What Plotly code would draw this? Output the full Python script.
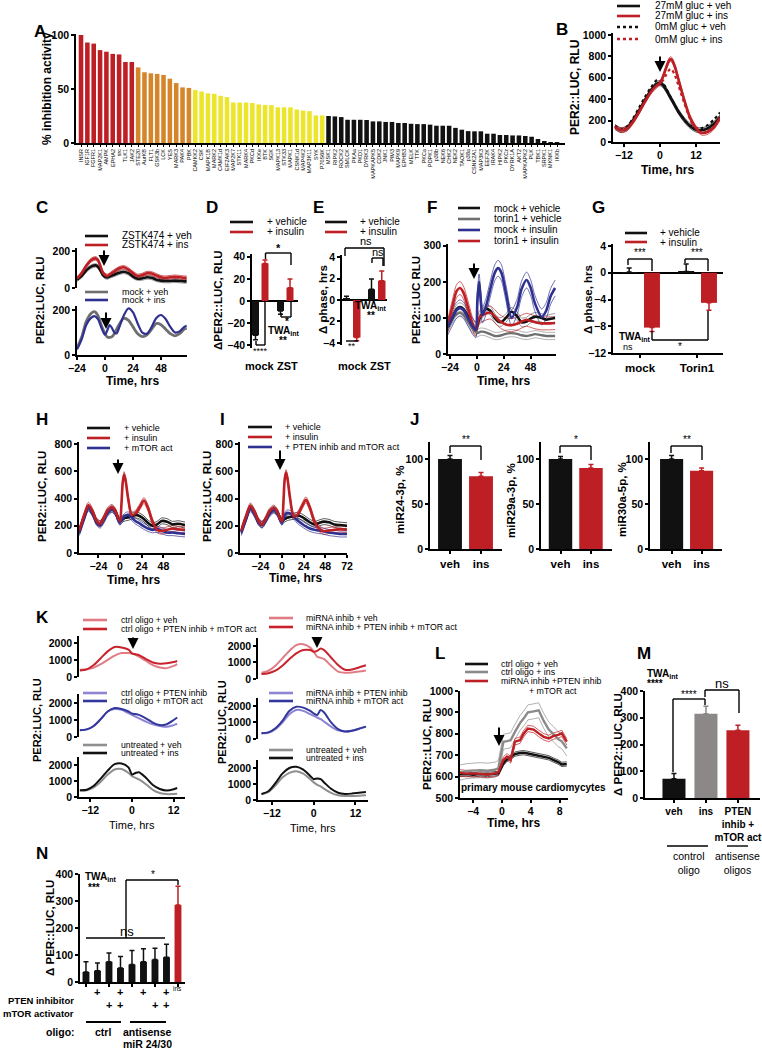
import numpy as np
import plotly.graph_objects as go

W, H = 762, 1051
FONT = "Liberation Sans, Arial, Helvetica, sans-serif"
RED = '#bd1f24'
BLACK = '#111111'
BLUE = '#2f3191'
GREY = '#6f6f6f'
LGREY = '#8f8f8f'
PINK = '#e07c86'
KRED = '#c8232c'
LPURP = '#8d84d2'
DBLUE = '#33389c'
ORANGE = '#d6862a'
YELLOW = '#ede52a'

# ---------------- DATA ----------------
# Panel A
A_red_kinases = ["INSR", "IGF1R", "FGFR1", "MAP2K1", "AMPK", "EPHA2", "src", "TLK1", "JAK2"]
A_red_values = [100, 93, 92, 86, 84.5, 82.5, 82, 75, 75]
A_orange_kinases = ["STE20", "AurKB", "FLT1", "GSK3b", "LCK", "YES", "MARK3", "PAK4", "PBK"]
A_orange_values = [70, 65.5, 64.5, 64, 63, 59.5, 55.5, 51.5, 51]
A_yellow_kinases = ["CAMKK2", "CSK", "MAPK1B", "MARK2", "CAMK1d", "EIF2AK3", "MAP2K7", "STK11", "MARK4",
                    "PKCd", "IKKe", "BTK", "SGK", "MAPK13", "STK33", "MAPK1", "CSNK1d", "MAP4K2", "MAP3K11",
                    "SYK", "P70S6K"]
A_yellow_values = [49, 47.7, 46, 45.5, 43.7, 42.5, 37.5, 37.5, 37.5, 37, 35.7, 35.2, 35, 33, 33, 33, 31, 30,
                   29.5, 25.5, 25.5]
A_black_kinases = ["MSK1", "RIPK2", "ROCK2", "SMLCK", "PKAa", "PKD1", "DYRK3", "MAPKAPK5", "CDK2", "JNK1",
                   "PIM3", "MAPK9", "EPHB3", "MELK", "TTK", "PKCa", "PDPK1", "p38b", "NEK6", "CHK2", "NEK2",
                   "TAOK1", "p38a", "CSNK2A1", "MAP3K3", "EEF2K", "IRAK4", "HIPK2", "PKCz", "DYRK1A", "AKT2",
                   "MAPKAPK2", "PLK", "TBK1", "SRPK1", "MKNK1", "IKKb"]
A_black_values = [25, 24.6, 24, 21.5, 21.5, 21.5, 21.3, 20, 20, 19.5, 19.5, 18.5, 18.5, 17.8, 17.5, 17.5, 17,
                  16, 16, 16, 14, 12.3, 11, 10.8, 10.8, 8.6, 8.6, 7.4, 7.4, 7, 7, 6.5, 5.8, 3.7, 1.5, 0.5, 0.3]

# Panel B
B_time = [-15, -13, -11, -9, -7, -5, -3, -1, 0, 1, 2, 3, 3.5, 4, 5, 6, 8, 10, 12, 14, 16, 18, 20]
B_27_veh = [140, 110, 130, 200, 290, 390, 480, 545, 550, 530, 490, 440, 415, 390, 340, 290, 210, 150, 115, 110, 130, 170, 230]
B_27_ins = [140, 110, 125, 190, 280, 380, 470, 530, 550, 610, 690, 760, 775, 765, 700, 600, 400, 230, 130, 85, 95, 140, 225]
B_0_veh = [150, 120, 145, 220, 320, 420, 510, 580, 575, 550, 505, 450, 420, 395, 340, 290, 210, 155, 125, 130, 160, 210, 275]
B_0_ins = [145, 115, 130, 200, 290, 390, 480, 530, 540, 575, 625, 670, 680, 675, 620, 540, 370, 215, 115, 85, 100, 160, 240]
B_sem = 22

# Panel C
C_time = [-24, -20, -16, -12, -8, -6, -4, -2, 0, 2, 4, 8, 12, 16, 20, 24, 28, 32, 36, 40, 44, 48, 52, 56, 60, 64, 68, 70]
C_zstk_veh = [45, 65, 95, 115, 122, 115, 95, 72, 60, 57, 62, 72, 82, 88, 80, 62, 50, 52, 58, 55, 45, 40, 38, 38, 40, 38, 36, 36]
C_zstk_ins = [50, 80, 120, 150, 160, 150, 120, 85, 70, 65, 72, 90, 105, 112, 100, 80, 65, 70, 80, 78, 68, 58, 55, 58, 60, 58, 55, 55]
C_mock_time = [-24, -20, -16, -12, -9, -6, -3, 0, 2, 4, 6, 8, 10, 12, 16, 20, 24, 28, 32, 36, 40, 44, 48, 52, 56, 60, 64, 68, 70]
C_mock_veh = [30, 80, 150, 185, 193, 175, 130, 95, 80, 78, 82, 95, 115, 135, 163, 155, 125, 95, 82, 90, 115, 140, 135, 115, 95, 85, 95, 115, 120]
C_mock_ins = [25, 70, 135, 165, 173, 160, 120, 90, 110, 133, 120, 100, 96, 120, 175, 207, 190, 140, 100, 95, 125, 165, 178, 160, 125, 100, 105, 125, 130]
C_sem = 10

# Panel D
D_groups = ["mock", "ZST"]
D_vehicle = [-31, -9]
D_vehicle_err = [4, 3]
D_insulin = [34, 12]
D_insulin_err = [3, 8]

# Panel E
E_groups = ["mock", "ZST"]
E_vehicle = [0.1, 1.0]
E_vehicle_err = [0.25, 0.95]
E_insulin = [-3.5, 1.8]
E_insulin_err = [0.3, 0.9]

# Panel F
F_time = [-26, -22, -18, -15, -12, -8, -4, -1, 0.5, 2, 3.5, 5, 8, 12, 16, 19, 22, 26, 31, 36, 40, 44.5, 48, 52, 58, 62, 66, 70]
F_mock_veh = [75, 100, 125, 130, 125, 105, 80, 67, 80, 95, 105, 112, 125, 120, 100, 90, 89, 100, 117, 105, 88, 90, 98, 103, 100, 95, 98, 100]
F_torin_veh = [72, 95, 110, 114, 108, 90, 70, 62, 58, 60, 62, 62, 60, 55, 50, 50, 52, 56, 58, 56, 52, 50, 52, 55, 52, 50, 50, 50]
F_mock_ins = [75, 100, 122, 128, 122, 100, 78, 67, 150, 200, 150, 108, 130, 180, 225, 238, 225, 170, 100, 130, 180, 205, 185, 140, 103, 120, 160, 183]
F_torin_ins = [78, 130, 175, 183, 170, 130, 85, 67, 85, 100, 105, 108, 112, 115, 105, 95, 88, 82, 80, 84, 90, 95, 92, 88, 85, 85, 85, 86]
F_sem = [12, 10, 22, 18]

# Panel G
G_groups = ["mock", "Torin1"]
G_vehicle = [0.1, 0.2]
G_vehicle_err = [0.6, 1.1]
G_insulin = [-8.2, -4.5]
G_insulin_err = [0.6, 1.1]

# Panel H
H_time = [-45, -40, -35, -30, -26, -22, -18, -14, -9, -5, -2, 0, 1.5, 3, 4.5, 6, 9, 13, 17, 22, 26.5, 31, 36, 41, 46, 52, 58, 64, 72]
H_vehicle = [160, 260, 335, 290, 230, 215, 250, 300, 325, 300, 250, 230, 240, 250, 255, 258, 262, 270, 280, 270, 250, 220, 200, 210, 235, 230, 210, 215, 205]
H_insulin = [165, 270, 350, 300, 235, 215, 255, 310, 335, 305, 255, 235, 350, 520, 575, 540, 400, 280, 290, 340, 385, 330, 230, 170, 160, 170, 180, 175, 170]
H_mtor = [150, 250, 330, 285, 225, 205, 240, 290, 320, 295, 245, 225, 240, 255, 265, 275, 280, 260, 235, 215, 195, 180, 170, 175, 165, 150, 150, 145, 140]

# Panel I
I_time = H_time
I_vehicle = [160, 255, 335, 290, 230, 210, 245, 295, 320, 295, 250, 230, 240, 250, 255, 260, 265, 270, 275, 265, 245, 225, 210, 220, 230, 225, 210, 205, 200]
I_insulin = [165, 265, 345, 295, 235, 210, 250, 305, 330, 300, 250, 235, 360, 540, 590, 550, 400, 270, 280, 340, 390, 330, 230, 180, 160, 165, 170, 175, 170]
I_pten_mtor = [150, 245, 325, 280, 225, 205, 240, 285, 315, 290, 245, 225, 250, 275, 290, 295, 290, 270, 240, 215, 195, 180, 170, 165, 160, 150, 145, 140, 140]
HI_sem = 22

# Panel J
J_groups = ["veh", "ins"]
J_mir24 = [100, 81]
J_mir24_err = [4, 4]
J_mir29a = [100, 90]
J_mir29a_err = [3, 4]
J_mir30a = [100, 87]
J_mir30a_err = [4, 3]

# Panel K
K_time_left = [-15, -13, -11, -9, -7, -5, -3, -1, 0, 1, 2, 4, 6, 8, 10, 12, 13]
K_ctrl_veh = [420, 450, 550, 750, 1000, 1250, 1400, 1400, 1370, 1300, 1200, 950, 700, 560, 520, 650, 760]
K_ctrl_pten_mtor = [380, 450, 700, 1100, 1500, 1760, 1730, 1600, 1380, 1330, 1280, 1050, 850, 780, 800, 880, 940]
K_ctrl_pten = [400, 450, 650, 1050, 1500, 1650, 1600, 1400, 1300, 1200, 1100, 900, 750, 650, 600, 700, 760]
K_ctrl_mtor = [400, 450, 650, 1050, 1500, 1700, 1650, 1500, 1380, 1350, 1300, 1100, 850, 700, 750, 1000, 1150]
K_untr_veh_l = [400, 420, 600, 950, 1400, 1720, 1750, 1500, 1300, 1200, 1100, 800, 450, 250, 180, 190, 200]
K_untr_ins_l = [420, 450, 700, 1150, 1650, 2050, 2100, 1850, 1400, 1500, 1550, 1200, 750, 500, 400, 480, 560]
K_time_right = [-15, -13, -11, -9, -7, -5, -3, -1, 0, 1, 2, 3, 5, 7, 9, 11, 13, 15]
K_mir_veh = [380, 500, 800, 1250, 1700, 2050, 2100, 1900, 1650, 1350, 1280, 1200, 800, 450, 380, 400, 450, 520]
K_mir_pten_mtor = [300, 350, 500, 800, 1200, 1550, 1750, 1750, 1650, 1700, 1850, 1750, 1300, 850, 560, 580, 700, 830]
K_mir_pten = [350, 380, 600, 1000, 1500, 1760, 1700, 1500, 1400, 1300, 1200, 1050, 750, 520, 450, 500, 620, 750]
K_mir_mtor = [350, 400, 650, 1100, 1700, 1950, 1900, 1700, 1550, 1450, 1750, 1600, 1000, 600, 450, 500, 620, 750]
K_untr_veh_r = [350, 500, 900, 1400, 1700, 1800, 1650, 1300, 1100, 950, 850, 700, 450, 300, 250, 250, 270, 300]
K_untr_ins_r = [380, 550, 1050, 1650, 2000, 2080, 1900, 1500, 1300, 1350, 1300, 1100, 700, 450, 380, 400, 450, 500]

# Panel L
L_time = [-6, -5, -4, -3, -2, -1, -0.5, 0.2, 0.7, 1.2, 1.8, 2.5, 3.0, 3.6, 4.4, 5.1, 5.8, 6.5, 7.1, 7.8, 8.3, 9.0]
L_ctrl_veh = [610, 612, 608, 612, 610, 612, 615, 662, 681, 690, 705, 710, 712, 708, 702, 698, 694, 688, 678, 668, 657, 659]
L_ctrl_ins = [618, 625, 628, 630, 628, 632, 640, 763, 766, 770, 809, 850, 871, 900, 905, 910, 860, 820, 800, 775, 765, 732]
L_mir_pten_mtor = [618, 614, 615, 612, 610, 615, 620, 678, 693, 678, 763, 770, 800, 825, 820, 802, 786, 778, 789, 795, 802, 763]
L_sem = [10, 35, 15]

# Panel M
M_groups = ["veh", "ins", "PTEN<br>inhib +<br>mTOR act"]
M_values = [72, 315, 253]
M_err = [20, 28, 19]

# Panel N
N_groups = ["ctrl", "ctrl PTEN", "ctrl mTOR", "ctrl PTEN+mTOR", "as", "as PTEN", "as mTOR", "as PTEN+mTOR", "ins"]
N_values = [37, 42, 75, 52, 65, 75, 83, 92, 285]
N_err = [38, 28, 32, 42, 52, 48, 42, 48, 70]
N_pten = [0, 1, 0, 1, 0, 1, 0, 1, 0]
N_mtor = [0, 0, 1, 1, 0, 0, 1, 1, 0]

# ---------------- HELPERS ----------------
fig = go.Figure()
layout = {}
shapes = []
annotations = []
count = [0]
TICK = 10.5


def fx(px):
    return px / W


def fy(py):
    return 1 - py / H


def tfont(size=TICK, bold=True, color='black'):
    return dict(family=FONT, size=size, color=color, weight='bold' if bold else 'normal')


def axes(x0, x1, ytop, ybot, xr, yr, xkw=None, ykw=None):
    count[0] += 1
    i = count[0]
    s = '' if i == 1 else str(i)
    base = dict(showline=True, linecolor='black', linewidth=1.6, ticks='outside', tickwidth=1.6,
                ticklen=3, tickcolor='black', showgrid=False, zeroline=False, tickfont=tfont(),
                fixedrange=True, automargin=False, tickangle=0)
    xa = dict(base)
    xa.update(domain=[fx(x0), fx(x1)], range=xr, anchor='y' + s)
    ya = dict(base)
    ya.update(domain=[fy(ybot), fy(ytop)], range=yr, anchor='x' + s)
    if xkw:
        xa.update(xkw)
    if ykw:
        ya.update(ykw)
    layout['xaxis' + s] = xa
    layout['yaxis' + s] = ya
    return 'x' + s, 'y' + s


def txt(px, py, s, size=10, bold=False, xa='center', ya='middle', angle=0, color='black'):
    annotations.append(dict(x=fx(px), y=fy(py), xref='paper', yref='paper', text=s, showarrow=False,
                            xanchor=xa, yanchor=ya, textangle=angle, font=tfont(size, bold, color)))


def seg(x0, y0, x1, y1, color='black', width=1.4, dash=None):
    shapes.append(dict(type='line', xref='paper', yref='paper', x0=fx(x0), y0=fy(y0), x1=fx(x1), y1=fy(y1),
                       line=dict(color=color, width=width, dash=dash)))


def bracket(xl, xr, ytop, yl, yr, width=1.4):
    seg(xl, ytop, xr, ytop, width=width)
    seg(xl, ytop, xl, yl, width=width)
    seg(xr, ytop, xr, yr, width=width)


def legend(x0, x1, xt, entries, size=10):
    for (y, label, color, dash) in entries:
        seg(x0, y, x1, y, color, 2.6, dash)
        txt(xt, y, label, size, xa='left')


def arrow(px, ytail, yhead):
    annotations.append(dict(x=fx(px), y=fy(yhead), xref='paper', yref='paper', text='', showarrow=True,
                            ax=0, ay=ytail - yhead, axref='pixel', ayref='pixel', arrowhead=2,
                            arrowsize=1.1, arrowwidth=2, arrowcolor='black'))


def letter(px, py, s):
    txt(px, py, s, 17, True)


def line(xa, ya, t, y, color, width=2.4, dash=None, shape='spline'):
    fig.add_trace(go.Scatter(x=t, y=y, mode='lines', xaxis=xa, yaxis=ya, showlegend=False, hoverinfo='skip',
                             line=dict(color=color, width=width, dash=dash, shape=shape, smoothing=0.8)))


def sem_lines(xa, ya, t, y, sem, color, shape='spline'):
    arr = np.array(y, dtype=float)
    line(xa, ya, t, arr + sem, color, 0.7, None, shape)
    line(xa, ya, t, arr - sem, color, 0.7, None, shape)


def bars(xa, ya, cats, vals, errs, color, offset, width):
    up = [e if v >= 0 else 0 for v, e in zip(vals, errs)]
    dn = [e if v < 0 else 0 for v, e in zip(vals, errs)]
    fig.add_trace(go.Bar(x=cats, y=vals, offset=offset, width=width, xaxis=xa, yaxis=ya, showlegend=False,
                         hoverinfo='skip', marker=dict(color=color, line=dict(width=0)),
                         error_y=dict(type='data', symmetric=False, array=up, arrayminus=dn, color=color,
                                      thickness=1.5, width=2.5)))


def ytitle(px, py, s, size=11.5):
    txt(px, py, s, size, True, angle=-90)


# ---------------- PANEL A ----------------
A_kin = A_red_kinases + A_orange_kinases + A_yellow_kinases + A_black_kinases
xa, ya = axes(76, 565, 34, 143, [-0.79, 76.26], [0, 100.9],
              xkw=dict(type='category', tickmode='array', tickvals=A_kin, ticktext=A_kin, tickangle=-90,
                       tickfont=tfont(5.5, False), ticklen=2, tickwidth=0.8),
              ykw=dict(tickvals=[0, 50, 100]))
for kin, vals, col in [(A_red_kinases, A_red_values, RED), (A_orange_kinases, A_orange_values, ORANGE),
                       (A_yellow_kinases, A_yellow_values, YELLOW), (A_black_kinases, A_black_values, BLACK)]:
    fig.add_trace(go.Bar(x=kin, y=vals, width=0.72, marker=dict(color=col, line=dict(width=0)), xaxis=xa,
                         yaxis=ya, showlegend=False, hoverinfo='skip'))
ytitle(47, 89, "% inhibition activity", 12)
letter(40, 32, "A")

# ---------------- PANEL B ----------------
xa, ya = axes(613, 720, 33, 142, [-15.67, 20], [0, 1018],
              xkw=dict(tickvals=[-12, 0, 12]), ykw=dict(tickvals=[0, 200, 400, 600, 800, 1000]))
for y, c in [(B_27_veh, BLACK), (B_27_ins, RED)]:
    sem_lines(xa, ya, B_time, y, B_sem, c)
line(xa, ya, B_time, B_0_veh, BLACK, 2.2, 'dot')
line(xa, ya, B_time, B_0_ins, RED, 2.2, 'dot')
line(xa, ya, B_time, B_27_veh, BLACK, 2.6)
line(xa, ya, B_time, B_27_ins, RED, 2.6)
legend(617, 640, 653, [(6, "27mM gluc + veh", BLACK, None), (16, "27mM gluc + ins", RED, None),
                       (27, "0mM gluc + veh", BLACK, 'dot'), (39, "0mM gluc + ins", RED, 'dot')])
arrow(660, 55, 72)
ytitle(575, 88, "PER2::LUC, RLU", 12)
txt(667, 170, "Time, hrs", 12, True)
letter(562, 30, "B")

# ---------------- PANEL C ----------------
xa, ya = axes(77, 187, 248, 288, [-24, 70.3], [0, 216], xkw=dict(visible=False),
              ykw=dict(tickvals=[0, 200]))
sem_lines(xa, ya, C_time, C_zstk_veh, C_sem, GREY)
sem_lines(xa, ya, C_time, C_zstk_ins, C_sem, RED)
line(xa, ya, C_time, C_zstk_veh, BLACK, 2.6)
line(xa, ya, C_time, C_zstk_ins, RED, 2.6)
xa, ya = axes(77, 187, 306, 355, [-24, 70.3], [0, 218], xkw=dict(tickvals=[-24, 0, 24, 48]),
              ykw=dict(tickvals=[0, 200]))
line(xa, ya, C_mock_time, C_mock_veh, GREY, 2.8)
line(xa, ya, C_mock_time, C_mock_ins, BLUE, 2.2)
legend(85, 108, 120, [(236, "ZSTK474 + veh", BLACK, None), (245, "ZSTK474 + ins", RED, None)])
legend(85, 108, 120, [(292, "mock + veh", GREY, None), (300, "mock + ins", BLUE, None)], 9)
arrow(104, 249, 266)
arrow(106, 311, 329)
ytitle(40, 300, "PER2:LUC, RLU")
txt(132, 381, "Time, hrs", 12, True)
letter(42, 207, "C")

# ---------------- PANEL D ----------------
xa, ya = axes(252, 298, 254, 348, [-0.34, 1.5], [-42.5, 42.5],
              xkw=dict(type='category', showline=False, ticks='', showticklabels=False),
              ykw=dict(tickvals=[-40, -20, 0, 20, 40], zeroline=True, zerolinecolor='black', zerolinewidth=1.6))
bars(xa, ya, D_groups, D_vehicle, D_vehicle_err, BLACK, -0.34, 0.28)
bars(xa, ya, D_groups, D_insulin, D_insulin_err, RED, 0.04, 0.28)
legend(230, 253, 265, [(222, "+ vehicle", BLACK, None), (232, "+ insulin", RED, None)])
bracket(265.5, 291, 253, 259, 265)
txt(278, 248, "*", 11, True)
bracket(281, 291, 317, 313, 301)
txt(287, 321, "*", 10, True)
txt(283, 331, "TWA<sub>int</sub>", 10, True)
txt(283, 340, "**", 10, True)
seg(256, 345, 265, 345)
seg(256, 341, 256, 345)
seg(265, 345, 265, 301)
txt(260, 351, "****", 9, False)
txt(260, 366, "mock", 11, True)
txt(287, 366, "ZST", 11, True)
ytitle(218, 300, "ΔPER2::LUC, RLU")
letter(212, 207, "D")

# ---------------- PANEL E ----------------
xa, ya = axes(342, 387, 255, 345, [-0.4, 1.4], [-4.2, 4.2],
              xkw=dict(type='category', showline=False, ticks='', showticklabels=False),
              ykw=dict(tickvals=[-4, -2, 0, 2, 4], zeroline=True, zerolinecolor='black', zerolinewidth=1.6))
bars(xa, ya, E_groups, E_vehicle, E_vehicle_err, BLACK, -0.36, 0.28)
bars(xa, ya, E_groups, E_insulin, E_insulin_err, RED, 0.04, 0.3)
legend(325, 347, 358, [(222, "+ vehicle", BLACK, None), (232, "+ insulin", RED, None)])
bracket(345, 384, 248, 256, 266)
txt(366, 241, "ns", 11)
bracket(372, 383, 258, 263, 266)
txt(378, 252, "ns", 11)
txt(370, 306, "TWA<sub>int</sub>", 10, True)
txt(371, 315, "**", 10, True)
seg(346, 341, 358, 341)
txt(352, 346, "**", 9)
txt(353, 366, "mock", 11, True)
txt(380, 366, "ZST", 11, True)
ytitle(323, 300, "Δ phase, hrs")
letter(318, 207, "E")

# ---------------- PANEL F ----------------
xa, ya = axes(448, 556, 244, 354, [-25.8, 70.8], [0, 305], xkw=dict(tickvals=[-24, 0, 24, 48]),
              ykw=dict(tickvals=[0, 100, 200, 300]))
for y, c, s in [(F_torin_veh, LGREY, F_sem[1]), (F_mock_veh, GREY, F_sem[0]), (F_torin_ins, RED, F_sem[3]),
                (F_mock_ins, BLUE, F_sem[2])]:
    sem_lines(xa, ya, F_time, y, s, c)
line(xa, ya, F_time, F_torin_veh, GREY, 2.4)
line(xa, ya, F_time, F_mock_veh, BLACK, 2.6)
line(xa, ya, F_time, F_torin_ins, RED, 2.6)
line(xa, ya, F_time, F_mock_ins, BLUE, 2.6)
legend(458, 480, 492, [(208, "mock + vehicle", BLACK, None), (219, "torin1 + vehicle", GREY, None),
                       (230, "mock + insulin", BLUE, None), (241, "torin1 + insulin", RED, None)])
arrow(474, 262, 279)
ytitle(416, 300, "PER2::LUC RLU")
txt(503, 381, "Time, hrs", 12, True)
letter(432, 207, "F")

# ---------------- PANEL G ----------------
xa, ya = axes(613, 723, 244, 353, [-0.474, 1.456], [-12, 4.3],
              xkw=dict(type='category', tickfont=tfont(11.5)),
              ykw=dict(tickvals=[-12, -8, -4, 0, 4], zeroline=True, zerolinecolor='black', zerolinewidth=1.6))
bars(xa, ya, G_groups, G_vehicle, G_vehicle_err, BLACK, -0.33, 0.28)
bars(xa, ya, G_groups, G_insulin, G_insulin_err, RED, 0.07, 0.28)
legend(625, 647, 658, [(233, "+ vehicle", BLACK, None), (242, "+ insulin", RED, None)])
bracket(628, 652, 259, 265, 271)
txt(640, 253, "***", 10)
bracket(685, 708, 259, 263, 271)
txt(697, 253, "***", 10)
seg(652, 340, 708, 340)
seg(652, 331, 652, 340)
seg(708, 340, 708, 311)
txt(680, 346, "*", 10)
txt(617, 337, "TWA<sub>int</sub>", 10, True, xa='left')
txt(628, 347, "ns", 9)
ytitle(588, 300, "Δ phase, hrs")
letter(598, 207, "G")

# ---------------- PANEL H ----------------
xa, ya = axes(79, 185, 442, 553, [-45.4, 71.9], [0, 815], xkw=dict(tickvals=[-24, 0, 24, 48, 72]),
              ykw=dict(tickvals=[0, 200, 400, 600, 800]))
for y, c in [(H_vehicle, BLACK), (H_insulin, RED), (H_mtor, BLUE)]:
    sem_lines(xa, ya, H_time, y, HI_sem, c)
line(xa, ya, H_time, H_vehicle, BLACK, 2.6)
line(xa, ya, H_time, H_mtor, BLUE, 2.6)
line(xa, ya, H_time, H_insulin, RED, 2.6)
legend(87, 110, 122, [(428, "+ vehicle", BLACK, None), (438, "+ insulin", RED, None),
                      (448, "+ mTOR act", BLUE, None)], 9)
arrow(118, 458, 474)
ytitle(42, 497, "PER2::LUC, RLU")
txt(133, 580, "Time, hrs", 12, True)
letter(42, 419, "H")

# ---------------- PANEL I ----------------
xa, ya = axes(240, 347, 442, 553, [-46.5, 72], [0, 815], xkw=dict(tickvals=[-24, 0, 24, 48, 72]),
              ykw=dict(tickvals=[0, 200, 400, 600, 800]))
for y, c in [(I_vehicle, BLACK), (I_insulin, RED), (I_pten_mtor, BLUE)]:
    sem_lines(xa, ya, I_time, y, HI_sem, c)
line(xa, ya, I_time, I_vehicle, BLACK, 2.6)
line(xa, ya, I_time, I_pten_mtor, BLUE, 2.6)
line(xa, ya, I_time, I_insulin, RED, 2.6)
legend(248, 272, 283, [(427, "+ vehicle", BLACK, None), (437, "+ insulin", RED, None),
                       (447, "+ PTEN inhib and mTOR act", BLUE, None)], 9)
arrow(280, 449, 470)
ytitle(207, 497, "PER2::LUC, RLU")
txt(295, 578, "Time, hrs", 12, True)
letter(222, 419, "I")

# ---------------- PANEL J ----------------
for (x0, x1, rng, vals, errs, title, tx, stars, bx) in [
        (430, 502, [-0.645, 1.677], J_mir24, J_mir24_err, "miR24-3p, %", 400, "**", (450, 481)),
        (541, 612, [-0.64, 1.69], J_mir29a, J_mir29a_err, "miR29a-3p, %", 511, "*", (560, 591)),
        (650, 722, [-0.72, 1.68], J_mir30a, J_mir30a_err, "miR30a-5p, %", 622, "**", (671, 702))]:
    xa, ya = axes(x0, x1, 442, 549, rng, [0, 119], xkw=dict(type='category', tickfont=tfont(11.5)),
                  ykw=dict(tickvals=[0, 50, 100]))
    bars(xa, ya, J_groups[:1], vals[:1], errs[:1], BLACK, -0.385, 0.77)
    bars(xa, ya, J_groups[1:], vals[1:], errs[1:], RED, -0.385, 0.77)
    bracket(bx[0], bx[1], 446, 453, 460)
    txt((bx[0] + bx[1]) / 2, 440, stars, 10)
    ytitle(tx, 500, title)
letter(415, 419, "J")

# ---------------- PANEL K ----------------
kl = [-15.25, 15.25]
kr = [-16, 15.6]
xa, ya = axes(79, 185, 636, 677, kl, [0, 2400], xkw=dict(visible=False), ykw=dict(tickvals=[0, 1000, 2000]))
line(xa, ya, K_time_left, K_ctrl_veh, PINK, 2)
line(xa, ya, K_time_left, K_ctrl_pten_mtor, KRED, 2)
xa, ya = axes(79, 185, 694, 737, kl, [0, 2530], xkw=dict(visible=False), ykw=dict(tickvals=[0, 1000, 2000]))
line(xa, ya, K_time_left, K_ctrl_pten, LPURP, 2)
line(xa, ya, K_time_left, K_ctrl_mtor, DBLUE, 2)
xa, ya = axes(79, 185, 757, 797, kl, [0, 2500], xkw=dict(tickvals=[-12, 0, 12]),
              ykw=dict(tickvals=[0, 1000, 2000]))
line(xa, ya, K_time_left, K_untr_veh_l, LGREY, 2)
line(xa, ya, K_time_left, K_untr_ins_l, BLACK, 2)
xa, ya = axes(258, 368, 638, 679, kr, [0, 2480], xkw=dict(visible=False), ykw=dict(tickvals=[0, 1000, 2000]))
line(xa, ya, K_time_right, K_mir_veh, PINK, 2)
line(xa, ya, K_time_right, K_mir_pten_mtor, KRED, 2)
xa, ya = axes(258, 368, 698, 739, kr, [0, 2480], xkw=dict(visible=False), ykw=dict(tickvals=[0, 1000, 2000]))
line(xa, ya, K_time_right, K_mir_pten, LPURP, 2)
line(xa, ya, K_time_right, K_mir_mtor, DBLUE, 2)
xa, ya = axes(258, 368, 760, 800, kr, [0, 2500], xkw=dict(tickvals=[-12, 0, 12]),
              ykw=dict(tickvals=[0, 1000, 2000]))
line(xa, ya, K_time_right, K_untr_veh_r, LGREY, 2)
line(xa, ya, K_time_right, K_untr_ins_r, BLACK, 2)
KL = 8.7
legend(83, 107, 119, [(620, "ctrl oligo + veh", PINK, None), (629, "ctrl oligo + PTEN inhib + mTOR act", KRED, None)], KL)
legend(83, 107, 119, [(693, "ctrl oligo + PTEN inhib", LPURP, None), (701, "ctrl oligo + mTOR act", DBLUE, None)], KL)
legend(83, 107, 119, [(745, "untreated + veh", LGREY, None), (753, "untreated + ins", BLACK, None)], KL)
legend(269, 293, 304, [(618, "miRNA inhib + veh", PINK, None), (627, "miRNA inhib + PTEN inhib + mTOR act", KRED, None)], KL)
legend(269, 293, 304, [(693, "miRNA inhib + PTEN inhib", LPURP, None), (701, "miRNA inhib + mTOR act", DBLUE, None)], KL)
legend(269, 293, 304, [(750, "untreated + veh", LGREY, None), (758, "untreated + ins", BLACK, None)], KL)
arrow(133, 636, 649)
arrow(317, 636, 648)
ytitle(37, 720, "PER2:LUC, RLU", 11)
ytitle(222, 722, "PER2:LUC, RLU", 11)
txt(132, 825, "Time, hrs", 11, False)
txt(313, 828, "Time, hrs", 11, False)
letter(42, 617, "K")

# ---------------- PANEL L ----------------
xa, ya = axes(460, 568, 691, 798, [-5.83, 9.17], [500, 1000], xkw=dict(tickvals=[-4, 0, 4, 8]),
              ykw=dict(tickvals=[500, 600, 700, 800, 900, 1000]))
for y, c, s in [(L_ctrl_veh, BLACK, L_sem[0]), (L_ctrl_ins, LGREY, L_sem[1]), (L_mir_pten_mtor, RED, L_sem[2])]:
    sem_lines(xa, ya, L_time, y, s, c, 'linear')
line(xa, ya, L_time, L_ctrl_veh, BLACK, 2.4, shape='linear')
line(xa, ya, L_time, L_ctrl_ins, '#8a8a8a', 2.4, shape='linear')
line(xa, ya, L_time, L_mir_pten_mtor, RED, 2.4, shape='linear')
legend(465, 488, 499, [(664, "ctrl oligo + veh", BLACK, None), (672, "ctrl oligo + ins", '#8a8a8a', None),
                       (681, "miRNA inhib +PTEN inhib", RED, None)], 8.8)
txt(553, 691, "+ mTOR act", 8.8)
txt(533, 787, "primary mouse cardiomycytes", 10, True)
arrow(499, 726, 746)
ytitle(427, 745, "PER2::LUC, RLU")
txt(513, 823, "Time, hrs", 12, True)
letter(440, 653, "L")

# ---------------- PANEL M ----------------
xa, ya = axes(645, 760, 691, 798, [-0.906, 2.69], [0, 400],
              xkw=dict(type='category', tickfont=tfont(10), tickangle=0),
              ykw=dict(tickvals=[0, 100, 200, 300, 400]))
for i, col in enumerate([BLACK, '#8c8888', RED]):
    bars(xa, ya, M_groups[i:i + 1], M_values[i:i + 1], M_err[i:i + 1], col, -0.36, 0.72)
seg(667, 846, 708, 846)
seg(727, 846, 748, 846)
txt(689, 863, "control<br>oligo", 10.5)
txt(737, 863, "antisense<br>oligos", 10.5)
bracket(673, 705, 699, 772, 705)
txt(689, 694, "****", 10)
bracket(705, 739, 690, 697, 713)
txt(722, 683, "ns", 13)
txt(645, 674, "TWA<sub>int</sub>", 10, True, xa='left')
txt(645, 683, "****", 10, True, xa='left')
ytitle(618, 745, "Δ PER2::LUC, RLU")
letter(644, 653, "M")

# ---------------- PANEL N ----------------
xa, ya = axes(80, 185, 874, 982, [-0.52, 8.61], [0, 400],
              xkw=dict(type='category', showticklabels=False), ykw=dict(tickvals=[0, 100, 200, 300, 400]))
bars(xa, ya, N_groups[:8], N_values[:8], N_err[:8], BLACK, -0.3, 0.6)
bars(xa, ya, N_groups[8:], N_values[8:], N_err[8:], RED, -0.3, 0.6)
for g, p, m in zip(N_groups, N_pten, N_mtor):
    if p:
        annotations.append(dict(x=g, y=fy(1000), xref=xa, yref='paper', text='+', showarrow=False,
                                font=tfont(11, True)))
    if m:
        annotations.append(dict(x=g, y=fy(1013), xref=xa, yref='paper', text='+', showarrow=False,
                                font=tfont(11, True)))
annotations.append(dict(x=N_groups[8], y=fy(994), xref=xa, yref='paper', text='ins', showarrow=False,
                        font=tfont(6.5, False)))
txt(76, 1000, "PTEN inhibitor", 9.5, True, xa='right')
txt(76, 1013, "mTOR activator", 9.5, True, xa='right')
seg(86, 1022, 121, 1022, width=2.2)
seg(130, 1022, 166, 1022, width=2.2)
txt(77, 1032, "oligo:", 10.5, True, xa='right')
txt(103, 1032, "ctrl", 10.5, True)
txt(147, 1032, "antisense", 10.5, True)
txt(147, 1044, "miR 24/30", 10.5, True)
seg(86, 938, 165, 938)
txt(127, 931, "ns", 13)
seg(126, 938, 126, 880)
seg(126, 880, 178, 880)
seg(178, 880, 178, 885)
txt(153, 875, "*", 10)
txt(83, 877, "TWA<sub>int</sub>", 10, True, xa='left')
txt(86, 887, "***", 10, True, xa='left')
ytitle(50, 928, "Δ PER::LUC, RLU")
letter(42, 853, "N")

layout.update(width=W, height=H, margin=dict(l=0, r=0, t=0, b=0, pad=0), paper_bgcolor='white',
              plot_bgcolor='rgba(0,0,0,0)', barmode='overlay', showlegend=False,
              font=dict(family=FONT, color='black'), shapes=shapes, annotations=annotations)
fig.update_layout(**layout)
fig.write_html("out.html", config=dict(displayModeBar=False),
               post_script="document.body.style.margin='0px';document.body.style.padding='0px';")
